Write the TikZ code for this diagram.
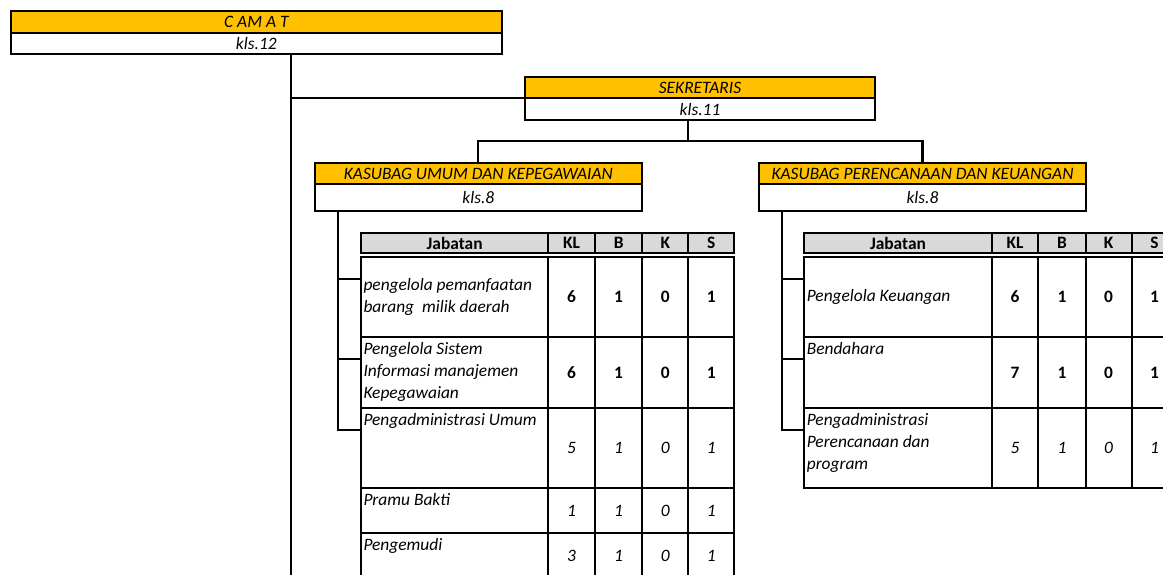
\documentclass[tikz,border=0pt]{standalone}
\usepackage{fontspec}
\setmainfont{Carlito}
\usetikzlibrary{positioning}
\definecolor{kuning}{HTML}{FFC000}
\definecolor{abuabu}{HTML}{D9D9D9}

\begin{document}
\begin{tikzpicture}[x=1pt, y=-1pt, every node/.style={inner sep=0pt, outer sep=0pt, font=\fontsize{17.4}{22}\selectfont}]
\tikzset{
  judul/.style={draw, line width=2.3pt, fill=kuning, font=\fontsize{17.4}{22}\selectfont\itshape},
  kelas/.style={draw, line width=2.3pt, fill=white, font=\fontsize{17.4}{22}\selectfont\itshape},
  kepala/.style={draw, line width=1.8pt, fill=abuabu, minimum height=20.6, font=\fontsize{17.4}{22}\selectfont\bfseries},
  sel/.style={draw, line width=1.8pt, minimum height=#1},
  kolj/.style={minimum width=187.3},
  kolkl/.style={minimum width=46.7},
  kolb/.style={minimum width=47.3},
  kolk/.style={minimum width=46},
  kols/.style={minimum width=46},
  isi/.style={align=left, font=\fontsize{17.4}{22}\selectfont\itshape},
  angka/.style={font=\fontsize{17.4}{22}\selectfont\bfseries},
  miring/.style={font=\fontsize{17.4}{22}\selectfont\itshape},
  garis/.style={line width=2.1pt}
}
\useasboundingbox (0,0) rectangle (1163,574);
\clip (0,0) rectangle (1163,574);

% Camat
\node[judul, minimum width=490.7, minimum height=22] (camat_judul) at (256.35,22) {C AM A T};
\node[kelas, minimum width=490.7, minimum height=21, below=0pt of camat_judul] (camat_kls) {kls.12};
\coordinate (camat_bawah) at (291,580);

% Sekretaris
\node[judul, minimum width=350, minimum height=21.6] (sek_judul) at (700,87.5) {SEKRETARIS};
\node[kelas, minimum width=350, minimum height=21.7, below=0pt of sek_judul] (sek_kls) {kls.11};

% Kasubag
\node[judul, minimum width=326.7, minimum height=21] (umum_judul) at (478.35,173.8) {KASUBAG UMUM DAN KEPEGAWAIAN};
\node[kelas, minimum width=326.7, minimum height=26.4, below=0pt of umum_judul] (umum_kls) {kls.8};
\node[judul, minimum width=327, minimum height=21] (renc_judul) at (922.5,173.8) {KASUBAG PERENCANAAN DAN KEUANGAN};
\node[kelas, minimum width=327, minimum height=26.4, below=0pt of renc_judul] (renc_kls) {kls.8};

% Tabel Umum (kiri)
\node[kepala, kolj] (uh_jab) at (454.65,243) {Jabatan};
\node[kepala, kolkl] (uh_kl) at (571.65,243) {KL};
\node[kepala, kolb] (uh_b) at (618.65,243) {B};
\node[kepala, kolk] (uh_k) at (665.3,243) {K};
\node[kepala, kols] (uh_s) at (711.3,243) {S};

\node[sel=80.6, kolj] (u1_jab) at (454.65,297) {};
\node[sel=80.6, kolkl, angka] (u1_kl) at (571.65,297) {6};
\node[sel=80.6, kolb, angka] (u1_b) at (618.65,297) {1};
\node[sel=80.6, kolk, angka] (u1_k) at (665.3,297) {0};
\node[sel=80.6, kols, angka] (u1_s) at (711.3,297) {1};

\node[sel=71, kolj] (u2_jab) at (454.65,372.8) {};
\node[sel=71, kolkl, angka] (u2_kl) at (571.65,372.8) {6};
\node[sel=71, kolb, angka] (u2_b) at (618.65,372.8) {1};
\node[sel=71, kolk, angka] (u2_k) at (665.3,372.8) {0};
\node[sel=71, kols, angka] (u2_s) at (711.3,372.8) {1};

\node[sel=80, kolj] (u3_jab) at (454.65,448.3) {};
\node[sel=80, kolkl, miring] (u3_kl) at (571.65,448.3) {5};
\node[sel=80, kolb, miring] (u3_b) at (618.65,448.3) {1};
\node[sel=80, kolk, miring] (u3_k) at (665.3,448.3) {0};
\node[sel=80, kols, miring] (u3_s) at (711.3,448.3) {1};

\node[sel=45, kolj] (u4_jab) at (454.65,510.8) {};
\node[sel=45, kolkl, miring] (u4_kl) at (571.65,510.8) {1};
\node[sel=45, kolb, miring] (u4_b) at (618.65,510.8) {1};
\node[sel=45, kolk, miring] (u4_k) at (665.3,510.8) {0};
\node[sel=45, kols, miring] (u4_s) at (711.3,510.8) {1};

\node[sel=45, kolj] (u5_jab) at (454.65,555.8) {};
\node[sel=45, kolkl, miring] (u5_kl) at (571.65,555.8) {3};
\node[sel=45, kolb, miring] (u5_b) at (618.65,555.8) {1};
\node[sel=45, kolk, miring] (u5_k) at (665.3,555.8) {0};
\node[sel=45, kols, miring] (u5_s) at (711.3,555.8) {1};

\node[isi, anchor=west] (u1_teks) at ([xshift=2.5pt]u1_jab.west) {pengelola pemanfaatan\\barang\ \ milik daerah};
\node[isi, anchor=north west] (u2_teks) at ([xshift=2.5pt, yshift=-5.5pt]u2_jab.north west) {Pengelola Sistem\\Informasi manajemen\\Kepegawaian};
\node[isi, anchor=north west] (u3_teks) at ([xshift=2.5pt, yshift=-5.5pt]u3_jab.north west) {Pengadministrasi Umum};
\node[isi, anchor=north west] (u4_teks) at ([xshift=2.5pt, yshift=-5.5pt]u4_jab.north west) {Pramu Bakti};
\node[isi, anchor=north west] (u5_teks) at ([xshift=2.5pt, yshift=-5.5pt]u5_jab.north west) {Pengemudi};

% Tabel Perencanaan (kanan)
\node[kepala, kolj] (rh_jab) at (897.95,243) {Jabatan};
\node[kepala, kolkl] (rh_kl) at (1014.95,243) {KL};
\node[kepala, kolb] (rh_b) at (1061.95,243) {B};
\node[kepala, kolk] (rh_k) at (1108.6,243) {K};
\node[kepala, kols] (rh_s) at (1154.6,243) {S};

\node[sel=80.6, kolj] (r1_jab) at (897.95,297) {};
\node[sel=80.6, kolkl, angka] (r1_kl) at (1014.95,297) {6};
\node[sel=80.6, kolb, angka] (r1_b) at (1061.95,297) {1};
\node[sel=80.6, kolk, angka] (r1_k) at (1108.6,297) {0};
\node[sel=80.6, kols, angka] (r1_s) at (1154.6,297) {1};

\node[sel=71, kolj] (r2_jab) at (897.95,372.8) {};
\node[sel=71, kolkl, angka] (r2_kl) at (1014.95,372.8) {7};
\node[sel=71, kolb, angka] (r2_b) at (1061.95,372.8) {1};
\node[sel=71, kolk, angka] (r2_k) at (1108.6,372.8) {0};
\node[sel=71, kols, angka] (r2_s) at (1154.6,372.8) {1};

\node[sel=80, kolj] (r3_jab) at (897.95,448.3) {};
\node[sel=80, kolkl, miring] (r3_kl) at (1014.95,448.3) {5};
\node[sel=80, kolb, miring] (r3_b) at (1061.95,448.3) {1};
\node[sel=80, kolk, miring] (r3_k) at (1108.6,448.3) {0};
\node[sel=80, kols, miring] (r3_s) at (1154.6,448.3) {1};

\node[isi, anchor=west] (r1_teks) at ([xshift=2.5pt]r1_jab.west) {Pengelola Keuangan};
\node[isi, anchor=north west] (r2_teks) at ([xshift=2.5pt, yshift=-5.5pt]r2_jab.north west) {Bendahara};
\node[isi, anchor=north west] (r3_teks) at ([xshift=2.5pt, yshift=-5.5pt]r3_jab.north west) {Pengadministrasi\\Perencanaan dan\\program};

% Garis
\draw[garis] (camat_kls.south -| camat_bawah) -- (camat_bawah);
\draw[garis] (sek_kls.north west) -- (sek_kls.north west -| camat_bawah);
\draw[garis] ([xshift=-11.7pt]sek_kls.south) -- ++(0,21) coordinate (sek_cabang);
\draw[garis] (umum_judul.north) |- (sek_cabang) -| (renc_judul.north);

\draw[garis] ([xshift=23pt]umum_kls.south west) |- ([yshift=-22pt]u3_jab.north west);
\draw[garis] ([yshift=-22pt]u1_jab.north west) -| ([xshift=23pt]umum_kls.south west);
\draw[garis] ([yshift=-22pt]u2_jab.north west) -| ([xshift=23pt]umum_kls.south west);

\draw[garis] ([xshift=23pt]renc_kls.south west) |- ([yshift=-22pt]r3_jab.north west);
\draw[garis] ([yshift=-22pt]r1_jab.north west) -| ([xshift=23pt]renc_kls.south west);
\draw[garis] ([yshift=-22pt]r2_jab.north west) -| ([xshift=23pt]renc_kls.south west);

\end{tikzpicture}
\end{document}
